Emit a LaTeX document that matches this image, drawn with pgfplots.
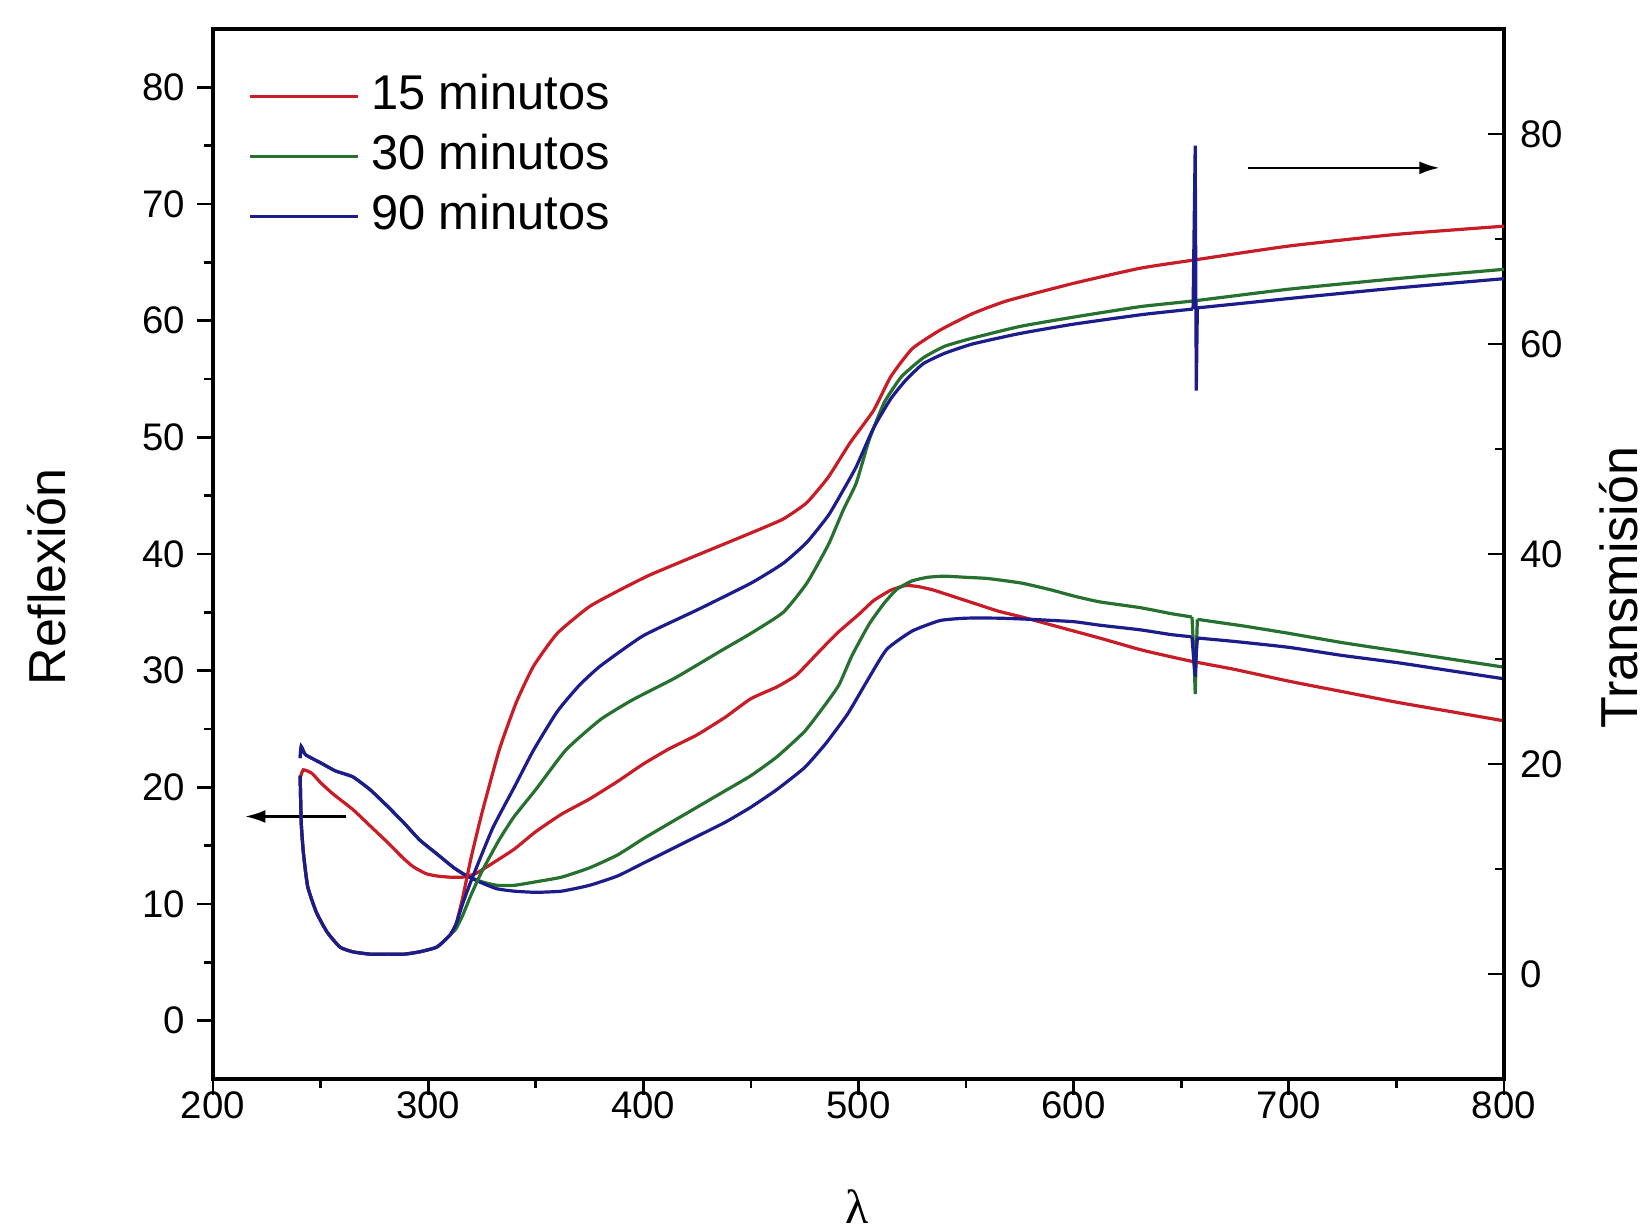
\documentclass[border=0pt]{standalone}
\usepackage{fontspec}
\setmainfont{Liberation Sans}
\newfontfamily\serifgreek{Liberation Serif}
\usepackage{pgfplots}
\pgfplotsset{compat=1.18}
\usetikzlibrary{arrows.meta}
\definecolor{cred}{RGB}{200,28,38}
\definecolor{cgreen}{RGB}{38,112,48}
\definecolor{cblue}{RGB}{28,28,140}

\begin{document}
\begin{tikzpicture}
\useasboundingbox (0,0) rectangle (410.75pt,307.75pt);
\pgfplotsset{
  common/.style={
    at={(53.25pt,38pt)}, anchor=south west,
    width=322.75pt, height=262.5pt, scale only axis,
    xmin=200, xmax=800,
    axis line style={line width=0.85pt},
    every tick/.append style={line width=0.7pt, black},
    major tick length=4pt, minor tick length=2.2pt,
    tick label style={font=\fontsize{9.6}{11}\selectfont},
    /pgf/number format/assume math mode=true,
  },
  curve/.style={line width=0.8pt, smooth, tension=0.3},
  spike/.style={line width=0.8pt, sharp plot, forget plot},
}
% ---------------- Reflexion (left axis) ----------------
\begin{axis}[
  common,
  ymin=-5, ymax=85,
  xtick={200,300,...,800}, ytick={0,10,...,80},
  minor x tick num=1, minor y tick num=1,
  xtick pos=left, ytick pos=left,
  tick align=outside,
  xticklabel style={yshift=4.3pt},
  yticklabel style={xshift=0.6pt},
  xlabel={\serifgreek λ}, ylabel={Reflexión},
  every axis x label/.style={at={(axis description cs:0.499,-0.122)}, anchor=center, font=\fontsize{12}{14}\selectfont},
  every axis y label/.style={at={(axis description cs:-0.129,0.478)}, rotate=90, anchor=center, font=\fontsize{13}{15}\selectfont},
  legend cell align=left,
  legend image code/.code={\draw[#1, line width=0.9pt, sharp plot] (0pt,0pt) -- (27pt,0pt);},
  legend style={draw=none, fill=none, at={(axis description cs:0.027,0.963)}, anchor=north west,
    font=\fontsize{12.2}{14}\selectfont, inner sep=0pt, row sep=1.1pt, column sep=1.5pt,
    nodes={inner sep=1.2pt, text height=9pt, text depth=2.5pt}},
]
\addplot[cred, curve] coordinates {
(240.5,20.8) (242,21.5) (246,21.2) (250,20.4) (256,19.4) (265,18.1) (273,16.7) (281,15.3)
(288,14.0) (293,13.2) (299,12.6) (304,12.4) (310,12.3) (316,12.3) (322,12.6) (330,13.5)
(340,14.7) (350,16.2) (362,17.7) (375,19.0) (388,20.5) (400,22.0) (412,23.3) (425,24.5)
(438,26.0) (450,27.6) (462,28.6) (471,29.6) (481,31.5) (490,33.2) (500,34.8) (507,36.0)
(515,36.9) (522,37.3) (528,37.2) (535,36.9) (545,36.3) (555,35.7) (565,35.1) (576,34.6)
(588,34.0) (600,33.4) (612,32.8) (631,31.8) (645,31.2) (655,30.8) (675,30.1) (700,29.1)
(725,28.2) (750,27.3) (775,26.5) (800,25.7)};
\addlegendentry{15 minutos}
\addplot[cgreen, curve] coordinates {
(240.5,22.5) (241,23.5) (243,22.8) (250,22.1) (257,21.4) (265,20.9) (273,19.8) (281,18.4)
(289,16.9) (296,15.5) (304,14.3) (312,13.1) (318,12.4) (325,11.9) (332,11.6) (340,11.6)
(350,11.9) (362,12.3) (375,13.1) (388,14.2) (400,15.6) (412,16.9) (425,18.3) (438,19.7)
(450,21.0) (462,22.6) (475,24.8) (485,27.2) (491,28.8) (497,31.3) (505,34.0) (512,35.8)
(518,37.0) (525,37.7) (532,38.0) (540,38.1) (550,38.0) (560,37.9) (576,37.5) (590,36.9)
(600,36.4) (612,35.9) (631,35.4) (645,34.9) (655,34.6)};
\addlegendentry{30 minutos}
\addplot[cblue, curve] coordinates {
(240.5,22.5) (241,23.5) (243,22.8) (250,22.1) (257,21.4) (265,20.9) (273,19.8) (281,18.4)
(289,16.9) (296,15.5) (304,14.3) (312,13.1) (318,12.4) (325,11.8) (332,11.3) (340,11.1)
(350,11.0) (362,11.1) (375,11.6) (388,12.4) (400,13.5) (412,14.6) (425,15.8) (438,17.0)
(450,18.3) (462,19.8) (475,21.7) (485,23.8) (495,26.3) (503,28.8) (513,31.8) (525,33.4)
(538,34.3) (550,34.5) (565,34.5) (580,34.4) (600,34.2) (612,33.9) (631,33.5) (645,33.1)
(655,32.9)};
\addlegendentry{90 minutos}
% spikes near 656 nm and the rest of the 30 / 90 min reflection curves
\addplot[cgreen, spike] coordinates {(655,34.6) (656,31.0) (656.5,28.0) (657,31.5) (657.5,34.4)};
\addplot[cgreen, curve, forget plot] coordinates {
(657.5,34.4) (665,34.2) (680,33.8) (700,33.2) (725,32.4) (750,31.7) (775,31.0) (800,30.3)};
\addplot[cblue, spike] coordinates {(655,32.9) (656,30.5) (656.5,29.5) (657,31.5) (657.5,32.8)};
\addplot[cblue, curve, forget plot] coordinates {
(657.5,32.8) (675,32.5) (700,32.0) (725,31.3) (750,30.7) (775,30.0) (800,29.3)};
\draw[-{Latex[length=5pt,width=3.2pt]}, line width=0.55pt] (axis cs:262,17.5) -- (axis cs:215,17.5);
\draw[-{Latex[length=5pt,width=3.2pt]}, line width=0.55pt] (axis cs:681,73.1) -- (axis cs:770,73.1);
\end{axis}
% ---------------- Transmision (right axis) ----------------
\begin{axis}[
  common,
  ymin=-10, ymax=90,
  axis x line=none, axis y line*=right,
  ytick={0,20,...,80}, minor y tick num=1,
  tick align=inside,
  yticklabel style={xshift=0.5pt},
  ylabel={Transmisión},
  every axis y label/.style={at={(axis description cs:1.089,0.468)}, rotate=90, anchor=center, font=\fontsize{13}{15}\selectfont},
]
\addplot[cred, curve] coordinates {
(240.5,18.89) (241,14.44) (242,11.56) (244,8.33) (248,5.89) (253,4.0) (259,2.56) (265,2.11)
(273,1.89) (281,1.89) (289,1.89) (296,2.11) (304,2.56) (310,3.67) (313,4.78) (316,7.22)
(320,11.11) (325,15.33) (333,21.33) (341,25.89) (349,29.33) (360,32.44) (375,35.0) (390,36.67)
(403,38.0) (425,39.89) (450,42.0) (465,43.33) (476,44.89) (486,47.33) (496,50.56) (507,53.67)
(515,56.89) (525,59.56) (538,61.33) (553,62.89) (569,64.11) (600,65.78) (631,67.22) (656,68.0)
(700,69.33) (750,70.44) (800,71.22)};
\addplot[cgreen, curve] coordinates {
(240.5,18.89) (241,14.44) (242,11.56) (244,8.33) (248,5.89) (253,4.0) (259,2.56) (265,2.11)
(273,1.89) (281,1.89) (289,1.89) (296,2.11) (304,2.56) (310,3.67) (313,4.33) (316,5.56)
(320,7.56) (325,9.78) (333,12.78) (340,15.0) (350,17.56) (364,21.33) (380,24.22) (395,26.11)
(415,28.22) (437,30.89) (450,32.44) (465,34.44) (476,37.22) (486,40.89) (493,44.22) (499,46.78)
(505,50.89) (512,54.44) (520,56.89) (530,58.67) (540,59.78) (553,60.56) (575,61.67) (600,62.56)
(631,63.56) (656,64.11) (700,65.22) (750,66.22) (800,67.11)};
\addplot[cblue, curve] coordinates {
(240.5,18.89) (241,14.44) (242,11.56) (244,8.33) (248,5.89) (253,4.0) (259,2.56) (265,2.11)
(273,1.89) (281,1.89) (289,1.89) (296,2.11) (304,2.56) (310,3.67) (313,4.78) (316,6.67)
(320,8.89) (330,13.89) (340,17.78) (349,21.33) (360,25.0) (370,27.44) (380,29.33) (400,32.22)
(425,34.67) (450,37.22) (465,39.11) (476,41.11) (486,43.67) (493,46.11) (499,48.33) (507,52.0)
(515,54.78) (522,56.56) (530,58.11) (540,59.11) (553,60.0) (575,61.0) (600,61.89) (631,62.78)
(645,63.1) (655.5,63.33)};
\addplot[cblue, spike] coordinates {(655.5,63.33) (656.5,78.89) (657,55.56) (657.5,63.44)};
\addplot[cblue, curve, forget plot] coordinates {
(657.5,63.44) (670,63.7) (700,64.33) (750,65.33) (800,66.22)};
\end{axis}
\end{tikzpicture}
\end{document}
